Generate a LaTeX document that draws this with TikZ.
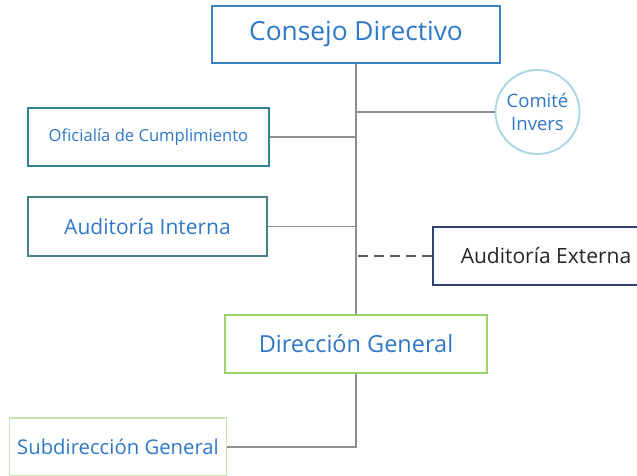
\documentclass[tikz,border=0pt]{standalone}
\usepackage{fontspec}
\setmainfont{Open Sans}
\usetikzlibrary{shapes.geometric}

\definecolor{txtblue}{HTML}{2E78C8}
\definecolor{linegray}{HTML}{8E8E8E}
\definecolor{cdblue}{HTML}{3A82C4}
\definecolor{ofteal}{HTML}{31849B}
\definecolor{aiteal}{HTML}{4A7F86}
\definecolor{cicyan}{HTML}{A8D6E2}
\definecolor{aenavy}{HTML}{2F4170}
\definecolor{dggreen}{HTML}{9ED36A}
\definecolor{sggreen}{HTML}{C9E2AE}

\newcommand{\fs}[1]{\fontsize{#1}{1.2\dimexpr#1pt\relax}\selectfont}

\begin{document}
\begin{tikzpicture}[x=1pt,y=-1pt,
	box/.style={draw,line width=1.8pt,fill=white,text=txtblue,inner sep=0pt},
	link/.style={draw=linegray,line width=1.6pt}]
	\clip (0,0) rectangle (637,476);
	\node[box,draw=cdblue,minimum width=288pt,minimum height=57pt,font=\fs{26.3}] (cd) at (356,34.5) {Consejo Directivo};
	\node[box,draw=ofteal,minimum width=241pt,minimum height=58pt,font=\fs{16.6}] (of) at (148.5,137) {Oficialía de Cumplimiento};
	\node[box,draw=aiteal,minimum width=239pt,minimum height=59pt,font=\fs{21}] (ai) at (147.5,226.5) {Auditoría Interna};
	\node[box,circle,draw=cicyan,minimum size=84pt,align=center,font=\fs{18.5}] (ci) at (537.5,112) {Comité\\Invers};
	\node[box,draw=aenavy,text={black!85},minimum width=226pt,minimum height=58pt,font=\fs{21}] (ae) at (546,256) {Auditoría Externa};
	\node[box,draw=dggreen,minimum width=262pt,minimum height=58pt,font=\fs{23.5}] (dg) at (356,344) {Dirección General};
	\node[box,draw=sggreen,minimum width=217pt,minimum height=58pt,font=\fs{20.3}] (sg) at (118,447) {Subdirección General};

	\draw[link] (cd.south) -- (dg.north);
	\draw[link] (of.east) -- (of.east -| cd.south);
	\draw[link] (ai.east) -- (ai.east -| cd.south);
	\draw[link] (ci.west) -- (ci.west -| cd.south);
	\draw[link,draw={black!65},dash pattern=on 10pt off 6pt] (ae.west) -- (ae.west -| cd.south);
	\draw[link] (dg.south) |- (sg.east);
\end{tikzpicture}
\end{document}
